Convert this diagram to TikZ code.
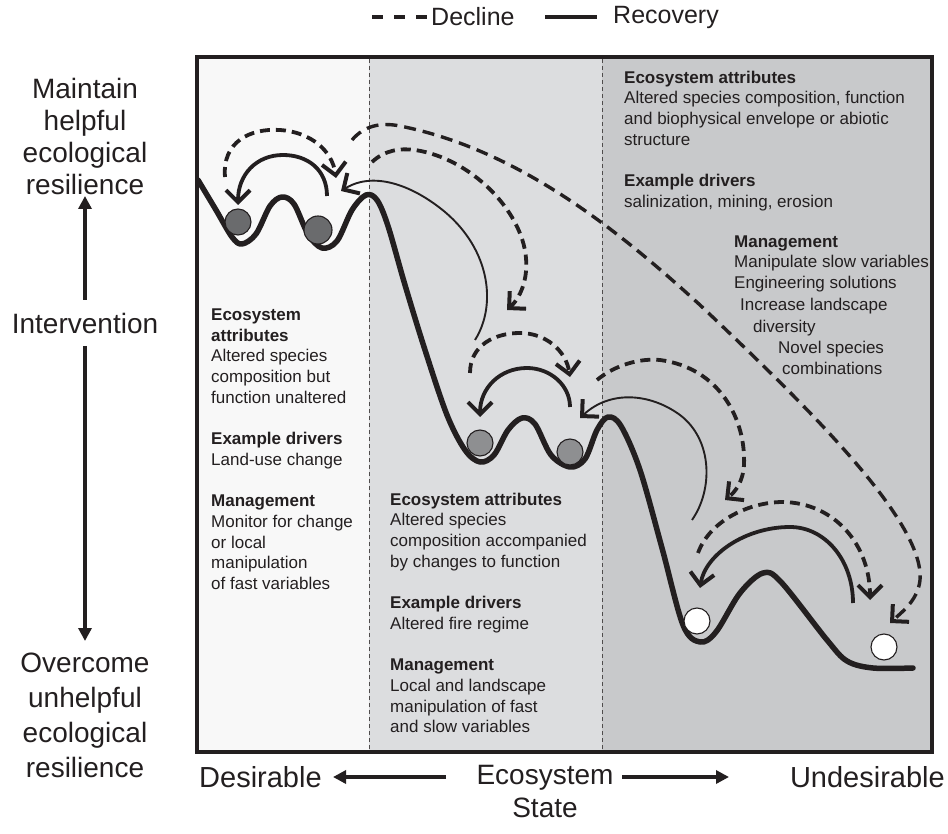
\documentclass[tikz,border=0pt]{standalone}
\usepackage{fontspec}
\setmainfont{Liberation Sans}
\usetikzlibrary{arrows.meta}
\definecolor{ink}{HTML}{231F20}
\definecolor{panelA}{HTML}{F8F8F8}
\definecolor{panelB}{HTML}{DCDDDF}
\definecolor{panelC}{HTML}{C8C9CB}
\definecolor{ballDark}{HTML}{6A6B6D}
\definecolor{ballMid}{HTML}{8E8F91}
\begin{document}
\begin{tikzpicture}[x=1pt,y=-1pt,
  landscape/.style={line width=5.5pt, line join=round, line cap=round, ink},
  barb/.style={-{Straight Barb[length=12pt,width=24pt,line width=4pt]}},
  recov/.style={barb, line width=3.8pt, ink},
  declin/.style={barb, line width=3.8pt, ink, dash pattern=on 10pt off 6pt},
  longdec/.style={barb, line width=3.4pt, ink, dash pattern=on 12pt off 7pt},
  thinrec/.style={barb, line width=1.9pt, ink},
  ball/.style={circle, draw=ink, line width=1.1pt, minimum size=26pt, inner sep=0pt},
  ptxt/.style={font=\fontsize{17}{20.7}\selectfont, text=ink, align=left, anchor=north west, inner sep=0pt},
  mtxt/.style={font=\fontsize{17}{20.7}\selectfont, text=ink, anchor=base west, inner sep=0pt},
  bigtxt/.style={font=\fontsize{28}{32}\selectfont, text=ink, align=center, inner sep=0pt},
  lowtxt/.style={font=\fontsize{29}{33}\selectfont, text=ink, align=center, inner sep=0pt},
  legtxt/.style={font=\fontsize{25}{28}\selectfont, text=ink, inner sep=0pt},
  axisarrow/.style={-{Triangle[length=13pt,width=13pt]}, line width=4pt, ink},
  divider/.style={ink!80, line width=1pt, dash pattern=on 4pt off 3pt}
]
\useasboundingbox (0,0) rectangle (948,834);

% panels
\fill[panelA] (197,57) rectangle (369,752);
\fill[panelB] (369,57) rectangle (602,752);
\fill[panelC] (602,57) rectangle (932,752);
\draw[divider] (369,59) -- (369,750);
\draw[divider] (602,59) -- (602,750);
\draw[ink, line width=4pt] (197,57) rectangle (932,752);

% legend
\draw[ink, line width=3.5pt, dash pattern=on 11pt off 11pt] (372,17) -- (428,17);
\node[legtxt, anchor=west] (decl) at (431,17) {Decline};
\draw[ink, line width=3.5pt] (545,17) -- (597,17);
\node[legtxt, anchor=west] (reco) at (613,17) {Recovery};

% left labels
\node[bigtxt, anchor=north] (maint) at (85,78) {Maintain\\helpful\\ecological\\resilience};
\node[bigtxt] (interv) at (85,323) {Intervention};
\node[bigtxt, anchor=north, font=\fontsize{28}{35}\selectfont] (overc) at (85,653) {Overcome\\unhelpful\\ecological\\resilience};
\draw[axisarrow] (interv.north |- 0,300) -- (85,196);
\draw[axisarrow] (interv.south |- 0,346) -- (85,641);

% bottom labels
\node[lowtxt, anchor=west] (desir) at (199,777) {Desirable};
\node[lowtxt, anchor=north, font=\fontsize{28}{33}\selectfont] (ecost) at (545,765) {Ecosystem\\State};
\node[lowtxt, anchor=east] (undes) at (945,777) {Undesirable};
\draw[axisarrow] (446,777) -- (333,777);
\draw[axisarrow] (622,777) -- (729,777);

% landscape curve
\draw[landscape] plot[smooth, tension=0.55] coordinates {
 (198,180) (216,210) (232,237) (242,244) (256,234) (270,206) (282,197) (294,204) (308,234) (322,248)
 (337,241) (352,210) (366,195) (377,200) (388,226) (405,285) (425,350) (447,415) (465,450) (480,462)
 (494,455) (508,430) (522,418) (535,424) (551,455) (570,467) (585,459) (597,430) (608,417) (621,426)
 (640,470) (662,548) (683,625) (700,642) (716,632) (740,593) (763,573) (781,582) (827,640) (847,661)
 (873,668) (913,668)};

% balls
\node[ball, fill=ballDark] (b1) at (238,222) {};
\node[ball, fill=ballDark, minimum size=28pt] (b2) at (318,230) {};
\node[ball, fill=ballMid] (b3) at (480,443) {};
\node[ball, fill=ballMid] (b4) at (570,452) {};
\node[ball, fill=white] (b5) at (697,621) {};
\node[ball, fill=white] (b6) at (884,647) {};

% left group arrows
\coordinate (a1s) at (225,177); \coordinate (a1e) at (336,178);
\draw[declin] (a1s) .. controls (222,142) and (250,128) .. (280,130) .. controls (310,132) and (332,150) .. (a1e);
\coordinate (a2s) at (327,196); \coordinate (a2e) at (238,205);
\draw[recov] (a2s) .. controls (327,170) and (308,155) .. (283,155) .. controls (256,155) and (238,175) .. (a2e);
\coordinate (a3s) at (475,340); \coordinate (a3e) at (341,191);
\draw[thinrec] (a3s) .. controls (497,305) and (490,250) .. (445,212) .. controls (415,187) and (375,170) .. (a3e);
\coordinate (a4s) at (372,162); \coordinate (a4e) at (507,310);
\draw[declin] (a4s) .. controls (385,150) and (400,148) .. (415,150) .. controls (470,158) and (522,210) .. (526,258) .. controls (528,280) and (520,298) .. (a4e);
\coordinate (a5s) at (352,140); \coordinate (a5e) at (890,623);
\draw[longdec] (a5s) .. controls (364,126) and (380,122) .. (400,126) .. controls (520,150) and (620,232) .. (700,305) .. controls (800,400) and (925,520) .. (920,580) .. controls (918,600) and (902,612) .. (a5e);

% middle group arrows
\coordinate (m1s) at (470,373); \coordinate (m1e) at (570,377);
\draw[declin] (m1s) .. controls (470,345) and (495,333) .. (520,333) .. controls (545,333) and (566,350) .. (m1e);
\coordinate (m2s) at (570,407); \coordinate (m2e) at (480,417);
\draw[recov] (m2s) .. controls (570,385) and (550,368) .. (527,368) .. controls (500,368) and (480,388) .. (m2e);
\coordinate (m3s) at (597,380); \coordinate (m3e) at (725,500);
\draw[declin] (m3s) .. controls (615,365) and (640,358) .. (660,360) .. controls (720,368) and (746,420) .. (744,465) .. controls (743,482) and (735,492) .. (m3e);
\coordinate (m4s) at (692,520); \coordinate (m4e) at (580,418);
\draw[thinrec] (m4s) .. controls (713,490) and (713,440) .. (680,415) .. controls (650,393) and (610,390) .. (m4e);

% right group arrows
\coordinate (r1s) at (698,553); \coordinate (r1e) at (870,600);
\draw[declin] (r1s) .. controls (710,520) and (750,502) .. (783,502) .. controls (835,503) and (870,545) .. (r1e);
\coordinate (r2s) at (853,603); \coordinate (r2e) at (700,588);
\draw[recov] (r2s) .. controls (853,560) and (825,527) .. (790,527) .. controls (745,527) and (705,555) .. (r2e);

% panel texts
\node[ptxt] (tA) at (211,308.5) {\textbf{Ecosystem}\\\textbf{attributes}\\Altered species\\composition but\\function unaltered\\[20.7pt]\textbf{Example drivers}\\Land-use change\\[20.7pt]\textbf{Management}\\Monitor for change\\or local\\manipulation\\of fast variables};
\node[ptxt] (tB) at (390,492.5) {\textbf{Ecosystem attributes}\\Altered species\\composition accompanied\\by changes to function\\[20.7pt]\textbf{Example drivers}\\Altered fire regime\\[20.7pt]\textbf{Management}\\Local and landscape\\manipulation of fast\\and slow variables};
\node[ptxt] (tC) at (624,70.5) {\textbf{Ecosystem attributes}\\Altered species composition, function\\and biophysical envelope or abiotic\\structure\\[20.7pt]\textbf{Example drivers}\\salinization, mining, erosion};
\node[mtxt] (tC1) at (734,248) {\textbf{Management}};
\node[mtxt] (tC2) at (734,268) {Manipulate slow variables};
\node[mtxt] (tC3) at (734,289) {Engineering solutions};
\node[mtxt] (tC4) at (740,311) {Increase landscape};
\node[mtxt] (tC5) at (753,333) {diversity};
\node[mtxt] (tC6) at (778,353) {Novel species};
\node[mtxt] (tC7) at (782,374) {combinations};
\end{tikzpicture}
\end{document}
